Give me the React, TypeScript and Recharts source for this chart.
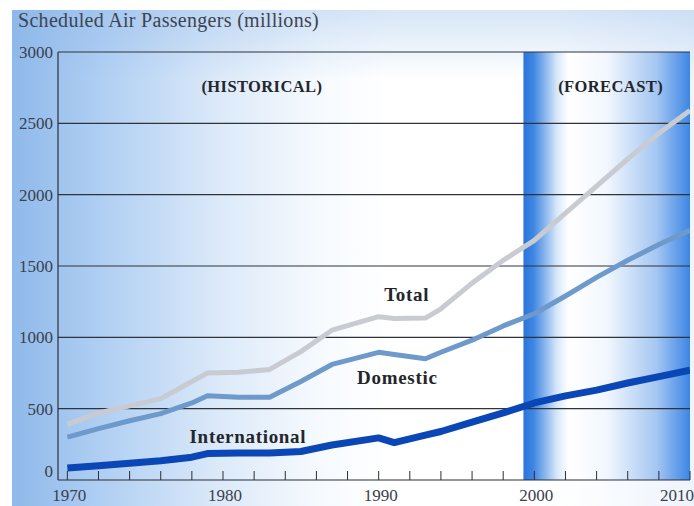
import React from 'react';
import { LineChart, Line, XAxis, YAxis, ReferenceArea, ReferenceLine, ReferenceDot } from 'recharts';

const years = [1970, 1972, 1974, 1976, 1978, 1979, 1981, 1983, 1985, 1987, 1990, 1991, 1993, 1994, 1996, 1998, 2000, 2002, 2004, 2006, 2008, 2010];
const total = [390, 470, 520, 570, 690, 750, 755, 775, 900, 1050, 1145, 1132, 1135, 1200, 1380, 1540, 1680, 1870, 2060, 2250, 2430, 2590];
const domestic = [300, 360, 415, 465, 540, 590, 580, 580, 690, 810, 895, 880, 850, 895, 980, 1080, 1165, 1290, 1420, 1540, 1650, 1750];
const international = [84, 100, 118, 135, 160, 185, 190, 190, 200, 245, 295, 262, 315, 340, 405, 470, 540, 590, 630, 680, 725, 770];

const yTicks = [0, 500, 1000, 1500, 2000, 2500, 3000];
const xTicks = [1970, 1972, 1974, 1976, 1978, 1980, 1982, 1984, 1986, 1988, 1990, 1992, 1994, 1996, 1998, 2000, 2002, 2004, 2006, 2008, 2010];
const xLabels = [1970, 1980, 1990, 2000, 2010];
const forecastStart = 1999.3;
const forecastEnd = 2010;

const annotationTexts = ['(HISTORICAL)', '(FORECAST)', 'Total', 'Domestic', 'International'];
const annotationYears = [1982.5, 2004.9, 1991.8, 1991.2, 1981.6];
const annotationValues = [2762, 2762, 1300, 720, 308];

const data = years.map((y, i) => ({
  year: y,
  total: total[i],
  domestic: domestic[i],
  international: international[i],
}));

const SERIF = '"Liberation Serif", "Times New Roman", serif';
const AXIS = '#2b2f38';
const TEXT = '#3a404c';

const XTick = (props: any) => {
  const { x, y, payload } = props;
  const v = payload.value;
  const isLast = v === 2010;
  return (
    <g>
      <line x1={x} x2={x} y1={y - 9} y2={y} stroke={AXIS} strokeWidth={1} />
      {xLabels.includes(v) && (
        <text
          x={isLast ? x + 4 : x + 2}
          y={y + 21}
          textAnchor={isLast ? 'end' : 'middle'}
          fontFamily={SERIF}
          fontSize={17}
          fill={TEXT}
        >
          {v}
        </text>
      )}
    </g>
  );
};

const YTick = (props: any) => {
  const { x, y, payload } = props;
  const v = payload.value;
  return (
    <text
      x={x - 5}
      y={v === 0 ? y - 9 : y}
      dy="0.35em"
      textAnchor="end"
      fontFamily={SERIF}
      fontSize={17}
      fill={TEXT}
    >
      {v}
    </text>
  );
};

const makeLabel = (text: string, size: number, spacing: number) => (p: any) => (
  <text
    x={p.cx}
    y={p.cy}
    dy="0.35em"
    textAnchor="middle"
    fontFamily={SERIF}
    fontWeight="bold"
    fontSize={size}
    letterSpacing={spacing}
    fill="#23262c"
  >
    {text}
  </text>
);

export default function App() {
  return (
    <div style={{ position: 'absolute', left: 0, top: 0, width: 694, height: 506, background: '#ffffff', overflow: 'hidden' }}>
      <div
        style={{
          position: 'absolute',
          left: 12,
          top: 10,
          width: 682,
          height: 496,
          background:
            'linear-gradient(to bottom, rgba(140,182,232,0.35) 0px, rgba(140,182,232,0) 70px), linear-gradient(to right, #8fb9ea 0%, #b2d0f3 14%, #dbe9f9 30%, #f6fafe 45%, #ffffff 55%, #ffffff 80%, #eef4fc 100%)',
        }}
      />
      <div
        style={{
          position: 'absolute',
          left: 18,
          top: 9,
          fontFamily: SERIF,
          fontSize: 20,
          letterSpacing: 0.3,
          color: '#3d4452',
          whiteSpace: 'nowrap',
        }}
      >
        Scheduled Air Passengers (millions)
      </div>
      <div style={{ position: 'absolute', left: 0, top: 0 }}>
        <LineChart width={694} height={506} data={data} margin={{ top: 52, right: 4, left: 0, bottom: 0 }}>
          <defs>
            <linearGradient id="fcGrad" x1="0" y1="0" x2="1" y2="0">
              <stop offset="0" stopColor="#2a74dc" />
              <stop offset="0.06" stopColor="#3f86e2" />
              <stop offset="0.2" stopColor="#d6e7fa" />
              <stop offset="0.27" stopColor="#ffffff" />
              <stop offset="0.5" stopColor="#f2f7fe" />
              <stop offset="0.8" stopColor="#a4c6f2" />
              <stop offset="1" stopColor="#3d86e4" />
            </linearGradient>
          </defs>
          <XAxis
            dataKey="year"
            type="number"
            domain={[1969.4, 2010]}
            ticks={xTicks}
            interval={0}
            height={26}
            tickSize={0}
            tickMargin={0}
            tickLine={false}
            axisLine={{ stroke: AXIS, strokeWidth: 1.2 }}
            tick={<XTick />}
            allowDataOverflow
          />
          <YAxis
            type="number"
            domain={[0, 3000]}
            ticks={yTicks}
            interval={0}
            width={58}
            tickSize={0}
            tickMargin={0}
            tickLine={false}
            axisLine={{ stroke: AXIS, strokeWidth: 1.2 }}
            tick={<YTick />}
          />
          <ReferenceArea
            x1={forecastStart}
            x2={forecastEnd}
            y1={0}
            y2={3000}
            fill="url(#fcGrad)"
            fillOpacity={1}
            stroke="none"
            ifOverflow="visible"
          />
          {yTicks
            .filter((t) => t > 0)
            .map((t) => (
              <ReferenceLine key={t} y={t} stroke="#2f343c" strokeWidth={1.2} />
            ))}
          <Line type="linear" dataKey="total" stroke="#c8ccd2" strokeWidth={5} dot={false} isAnimationActive={false} strokeLinejoin="round" />
          <Line type="linear" dataKey="domestic" stroke="#6e9acb" strokeWidth={5} dot={false} isAnimationActive={false} strokeLinejoin="round" />
          <Line type="linear" dataKey="international" stroke="#0b46b6" strokeWidth={7} dot={false} isAnimationActive={false} strokeLinejoin="round" />
          {annotationTexts.map((t, i) => (
            <ReferenceDot
              key={t}
              x={annotationYears[i]}
              y={annotationValues[i]}
              r={0}
              ifOverflow="visible"
              shape={makeLabel(t, i < 2 ? 16.5 : 19, i < 2 ? 0.4 : 0.7)}
            />
          ))}
        </LineChart>
      </div>
    </div>
  );
}
